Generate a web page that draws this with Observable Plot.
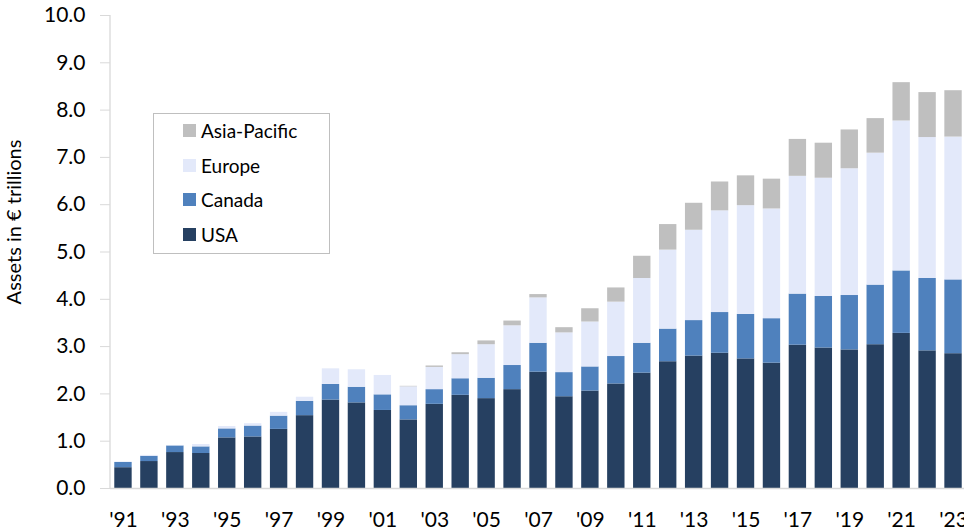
<!DOCTYPE html>
<html><head><meta charset="utf-8">
<script src="https://cdn.jsdelivr.net/npm/d3@7"></script>
<script src="https://cdn.jsdelivr.net/npm/@observablehq/plot@0.6"></script>
<style>
body{margin:0;background:#fff;overflow:hidden;}
#wrap{position:relative;width:964px;height:531px;overflow:hidden;}
#wrap svg{max-width:none;}
#legend{position:absolute;left:153px;top:113px;width:175px;height:139px;border:1px solid #bfbfbf;background:#fff;font-family:Lato,sans-serif;font-size:19px;color:#000;}
.row{position:absolute;left:29px;height:20px;display:flex;align-items:center;}
.sw{width:13px;height:13px;margin-right:5px;}
</style></head>
<body>
<div id="wrap"><div id="legend"></div></div>
<script>
const years = ["1991","1992","1993","1994","1995","1996","1997","1998","1999","2000","2001","2002","2003","2004","2005","2006","2007","2008","2009","2010","2011","2012","2013","2014","2015","2016","2017","2018","2019","2020","2021","2022","2023"];
const regions = ["USA","Canada","Europe","Asia-Pacific"];
const colors = ["#264061","#4f81bd","#e3e9fa","#bfbfbf"];
const usa    = [0.44,0.57,0.76,0.74,1.07,1.09,1.25,1.54,1.87,1.81,1.65,1.45,1.78,1.97,1.90,2.09,2.46,1.94,2.06,2.21,2.44,2.68,2.80,2.86,2.74,2.65,3.03,2.97,2.93,3.04,3.28,2.91,2.85];
const canada = [0.11,0.11,0.14,0.14,0.19,0.23,0.28,0.30,0.33,0.33,0.33,0.30,0.31,0.35,0.43,0.51,0.61,0.51,0.51,0.58,0.63,0.69,0.75,0.86,0.94,0.94,1.08,1.09,1.15,1.26,1.32,1.53,1.56];
const europe = [0.01,0.02,0.01,0.05,0.05,0.05,0.08,0.09,0.33,0.37,0.41,0.40,0.47,0.51,0.71,0.84,0.96,0.84,0.95,1.15,1.37,1.67,1.91,2.15,2.30,2.32,2.49,2.50,2.68,2.79,3.17,2.98,3.02];
const asia   = [0,0,0,0,0,0,0,0,0,0,0,0.01,0.03,0.04,0.08,0.10,0.07,0.11,0.28,0.30,0.47,0.54,0.57,0.61,0.63,0.63,0.78,0.74,0.82,0.73,0.81,0.95,0.98];
const yTicks = [0,1,2,3,4,5,6,7,8,9,10];
const yLabel = "Assets in € trillions";

const series = [usa, canada, europe, asia];
const table = [];
years.forEach((yr, i) => regions.forEach((r, j) => table.push({year: yr, region: r, value: series[j][i]})));
const oddYears = years.filter((d, i) => i % 2 === 0);

const chart = Plot.plot({
  width: 966, height: 531,
  marginLeft: 110, marginRight: 0, marginTop: 15, marginBottom: 43,
  style: {fontFamily: "Lato, sans-serif", fontSize: "21px", color: "#000", background: "#fff"},
  x: {type: "band", domain: years, paddingInner: 0.33, paddingOuter: 0.165, axis: null},
  y: {domain: [0, 10], axis: null},
  color: {domain: regions, range: colors},
  marks: [
    Plot.barY(table, {x: "year", y: "value", fill: "region", order: regions}),
    Plot.ruleY([0], {stroke: "#d9d9d9", strokeWidth: 1.3}),
    (index, scales, values, dims) => {
      const l = document.createElementNS("http://www.w3.org/2000/svg", "line");
      l.setAttribute("x1", dims.marginLeft); l.setAttribute("x2", dims.marginLeft);
      l.setAttribute("y1", scales.y(10)); l.setAttribute("y2", scales.y(0));
      l.setAttribute("stroke", "#d9d9d9"); l.setAttribute("stroke-width", "1.3");
      return l;
    },
    Plot.axisY({ticks: yTicks, tickSize: 10, tickPadding: 15, tickFormat: d3.format(".1f"), stroke: "#d9d9d9", fill: "#000", label: null}),
    Plot.axisX({ticks: oddYears, tickSize: 0, tickPadding: 24, tickFormat: d => "'" + d.slice(2), fill: "#000", label: null}),
    Plot.text([yLabel], {text: d => d, frameAnchor: "left", textAnchor: "middle", lineAnchor: "middle", rotate: -90, dx: -96, dy: -30, fill: "#000", fontSize: 20})
  ]
});
document.getElementById("wrap").prepend(chart);

const legend = document.getElementById("legend");
const rowTops = [6, 41, 75, 110];
[...regions].reverse().forEach((r, k) => {
  const row = document.createElement("div");
  row.className = "row";
  row.style.top = rowTops[k] + "px";
  const sw = document.createElement("div");
  sw.className = "sw";
  sw.style.background = colors[regions.indexOf(r)];
  const t = document.createElement("span");
  t.textContent = r;
  row.append(sw, t);
  legend.append(row);
});
</script>
</body></html>
